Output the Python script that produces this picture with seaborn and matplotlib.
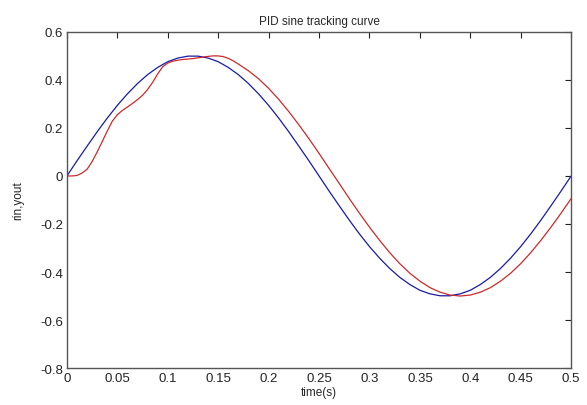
import numpy as np
import pandas as pd
import matplotlib
matplotlib.use("Agg")
import matplotlib.pyplot as plt
import seaborn as sns

# values
# rin (blue), sampled every 0.01 s
time_rin = [round(0.01 * i, 2) for i in range(51)]
rin = [0.000, 0.063, 0.124, 0.184, 0.241, 0.294, 0.342, 0.385, 0.422, 0.452,
       0.476, 0.491, 0.499, 0.499, 0.491, 0.476, 0.452, 0.422, 0.385, 0.342,
       0.294, 0.241, 0.184, 0.124, 0.063, 0.000, -0.063, -0.124, -0.184, -0.241,
       -0.294, -0.342, -0.385, -0.422, -0.452, -0.476, -0.491, -0.499, -0.499, -0.491,
       -0.476, -0.452, -0.422, -0.385, -0.342, -0.294, -0.241, -0.184, -0.124, -0.063,
       0.000]

# yout (red): every 0.005 s up to 0.17 s, then every 0.01 s
time_yout = [round(0.005 * i, 3) for i in range(35)] + [round(0.01 * i, 2) for i in range(18, 51)]
yout = [0.000, 0.000, 0.002, 0.012, 0.028, 0.060, 0.100, 0.143, 0.187, 0.228,
        0.255, 0.273, 0.287, 0.302, 0.318, 0.336, 0.360, 0.390, 0.425, 0.455,
        0.470, 0.478, 0.482, 0.485, 0.487, 0.489, 0.492, 0.495, 0.498, 0.500,
        0.500, 0.497, 0.490, 0.479, 0.466,
        0.438, 0.405, 0.365, 0.319, 0.268, 0.213, 0.155, 0.094, 0.031, -0.031,
        -0.094, -0.155, -0.213, -0.268, -0.319, -0.365, -0.405, -0.438, -0.465, -0.484,
        -0.496, -0.500, -0.496, -0.484, -0.465, -0.438, -0.405, -0.365, -0.319, -0.268,
        -0.213, -0.155, -0.094]

x_ticks = [0, 0.05, 0.1, 0.15, 0.2, 0.25, 0.3, 0.35, 0.4, 0.45, 0.5]
x_labels = ["0", "0.05", "0.1", "0.15", "0.2", "0.25", "0.3", "0.35", "0.4", "0.45", "0.5"]
y_ticks = [-0.8, -0.6, -0.4, -0.2, 0, 0.2, 0.4, 0.6]
y_labels = ["-0.8", "-0.6", "-0.4", "-0.2", "0", "0.2", "0.4", "0.6"]

df_rin = pd.DataFrame({"time": time_rin, "value": rin})
df_yout = pd.DataFrame({"time": time_yout, "value": yout})

sns.set_style("white")
plt.rcParams["font.family"] = ["Liberation Sans", "DejaVu Sans"]

fig = plt.figure(figsize=(5.87, 4.06), dpi=100)
ax = fig.add_axes([0.114, 0.091, 0.859, 0.828])

sns.lineplot(data=df_rin, x="time", y="value", ax=ax, color="#1a1aa8", linewidth=0.9)
sns.lineplot(data=df_yout, x="time", y="value", ax=ax, color="#cc2a2a", linewidth=0.9)

ax.set_xlim(0, 0.5)
ax.set_ylim(-0.8, 0.6)
ax.set_xticks(x_ticks)
ax.set_xticklabels(x_labels)
ax.set_yticks(y_ticks)
ax.set_yticklabels(y_labels)
ax.tick_params(direction="in", length=4, width=0.8, top=True, right=True,
               labelsize=9.5, colors="#222222", pad=3)
for s in ax.spines.values():
    s.set_color("#555555")
    s.set_linewidth(1.0)

ax.set_title("PID sine tracking curve", fontsize=8.5, pad=6)
ax.set_xlabel("time(s)", fontsize=8.5, labelpad=1)
ax.set_ylabel("rin,yout", fontsize=8.5)
ax.yaxis.set_label_coords(-0.085, 0.5)

fig.savefig("out.png", dpi=100)
